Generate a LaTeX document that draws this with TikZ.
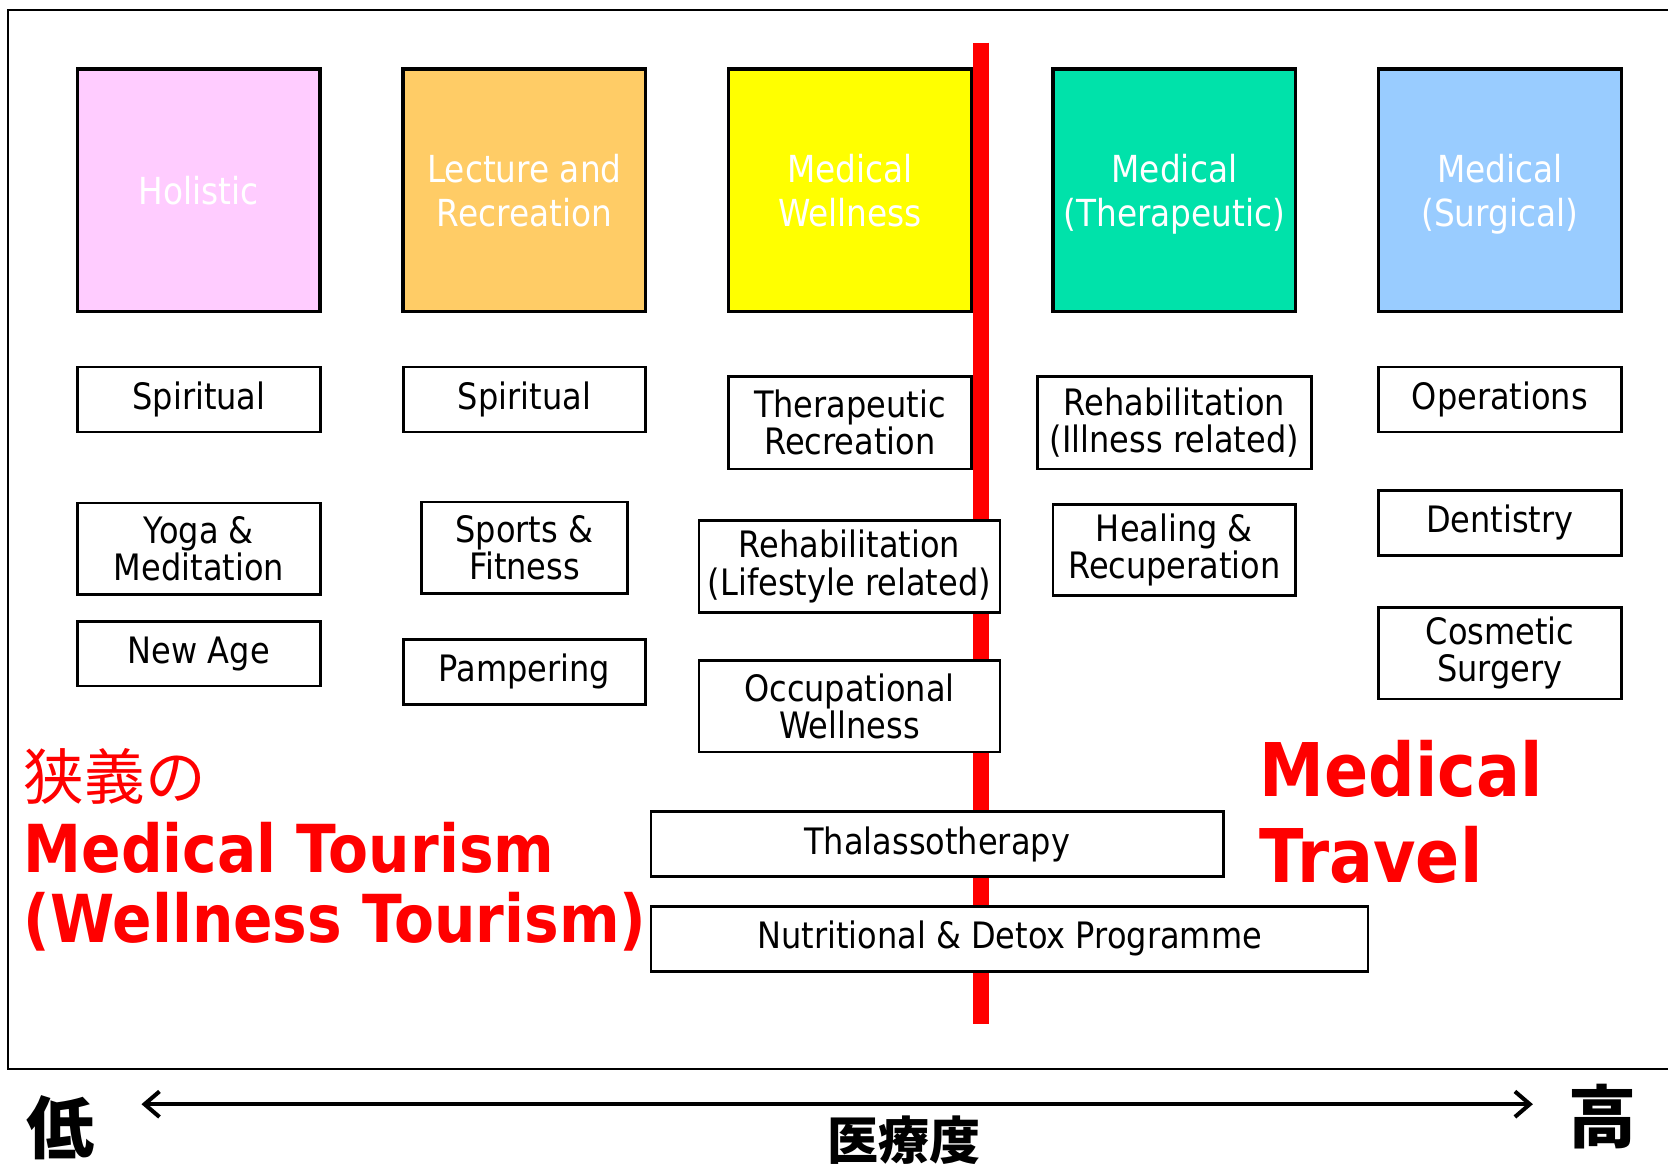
\documentclass[tikz,border=0pt]{standalone}
\usepackage{fontspec}
\setmainfont{DejaVu Sans}[FakeStretch=0.88]
\newfontfamily\jp{Noto Sans CJK JP}
\usetikzlibrary{arrows.meta}
\definecolor{cpink}{HTML}{FFCCFF}
\definecolor{corange}{HTML}{FFCC66}
\definecolor{cyellow}{HTML}{FFFF00}
\definecolor{cteal}{HTML}{00E2AA}
\definecolor{cblue}{HTML}{99CCFF}
\definecolor{cred}{HTML}{FF0000}
\begin{document}
\begin{tikzpicture}[x=0.5pt,y=-0.5pt,
  bigbox/.style={draw, line width=1.6pt, minimum width=114pt, minimum height=114pt, inner sep=0pt, align=center, text=white, text depth=0pt, font=\fontsize{17.5}{21}\selectfont},
  sbox/.style={draw, fill=white, line width=1.25pt, inner sep=0pt, align=center, font=\fontsize{17.1}{17.4}\selectfont},
  redjp/.style={anchor=base west, inner sep=0pt, text=cred, font=\jp\fontsize{28.5}{30}\selectfont},
  redbig/.style={anchor=base west, inner sep=0pt, text=cred, font=\bfseries\fontsize{31.1}{32}\selectfont},
  redhuge/.style={anchor=base west, inner sep=0pt, text=cred, font=\bfseries\fontsize{34.8}{37}\selectfont},
  axislabel/.style={inner sep=0pt, font=\jp\bfseries\fontsize{32}{32}\selectfont}
]
\useasboundingbox (0,0) rectangle (1568,1095);
% frame
\draw[line width=1pt] (1580,9.5) -- (7.5,9.5) -- (7.5,1005) -- (1580,1005);
% red divider
\coordinate (rtop) at (922,40);
\coordinate (rbot) at (922,963);
\draw[cred, line width=7.5pt] (rtop) -- (rbot);
% category boxes
\node[bigbox, fill=cpink]   (hol) at (187,179) {Holistic};
\node[bigbox, fill=corange] (lec) at (493,179) {Lecture and\\Recreation};
\node[bigbox, fill=cyellow] (mw)  at (799,179) {Medical\\Wellness};
\node[bigbox, fill=cteal]   (mt)  at (1104,179) {Medical\\(Therapeutic)};
\node[bigbox, fill=cblue]   (ms)  at (1410,179) {Medical\\(Surgical)};
% column 1
\node[sbox, minimum width=114pt, minimum height=30.5pt] (sp1) at (187,375.5) {Spiritual};
\node[sbox, minimum width=114pt, minimum height=43pt] (yoga) at (187,516) {Yoga \&\\Meditation};
\node[sbox, minimum width=114pt, minimum height=30.5pt] (na) at (187,614.5) {New Age};
% column 2
\node[sbox, minimum width=114pt, minimum height=30.5pt] (sp2) at (493,375.5) {Spiritual};
\node[sbox, minimum width=97pt, minimum height=43pt] (spo) at (493,515) {Sports \&\\Fitness};
\node[sbox, minimum width=114pt, minimum height=30.5pt] (pam) at (493,631.5) {Pampering};
% column 3
\node[sbox, minimum width=114pt, minimum height=43.5pt] (trec) at (799,397.5) {Therapeutic\\Recreation};
\node[sbox, minimum width=141.5pt, minimum height=43.5pt] (rehl) at (798.5,532.5) {Rehabilitation\\(Lifestyle related)};
\node[sbox, minimum width=141.5pt, minimum height=43pt] (occ) at (798.5,664) {Occupational\\Wellness};
% column 4
\node[sbox, minimum width=129pt, minimum height=43.5pt] (rehi) at (1104,397.5) {Rehabilitation\\(Illness related)};
\node[sbox, minimum width=114pt, minimum height=43pt] (heal) at (1104,517) {Healing \&\\Recuperation};
% column 5
\node[sbox, minimum width=114pt, minimum height=30.5pt] (ops) at (1410,375.5) {Operations};
\node[sbox, minimum width=114pt, minimum height=30.5pt] (den) at (1410,491.5) {Dentistry};
\node[sbox, minimum width=114pt, minimum height=43pt] (cos) at (1410,614) {Cosmetic\\Surgery};
% wide boxes
\node[sbox, minimum width=269pt, minimum height=30.5pt] (thal) at (881,793.5) {Thalassotherapy};
\node[sbox, minimum width=337pt, minimum height=30.5pt] (nut) at (949,882.5) {Nutritional \& Detox Programme};
% red labels
\node[redjp] (kyogi) at (22,752) {狭義の};
\node[redbig] (mtour) at (22,820) {Medical Tourism};
\node[redbig] (wtour) at (22,886) {(Wellness Tourism)};
\node[redhuge] (mtr1) at (1184,749) {Medical};
\node[redhuge] (mtr2) at (1184,830) {Travel};
% axis
\node[axislabel] (lo) at (57,1060) {低};
\node[axislabel] (hi) at (1506,1050) {高};
\node[inner sep=0pt, font=\jp\bfseries\fontsize{24}{24}\selectfont] (ax) at (850,1072) {医療度};
\coordinate (al) at (133,1038);
\coordinate (ar) at (1441,1038);
\draw[line width=1.9pt, {Straight Barb[length=7pt,width=12pt]}-{Straight Barb[length=7pt,width=12pt]}] (al) -- (ar);
\end{tikzpicture}
\end{document}
